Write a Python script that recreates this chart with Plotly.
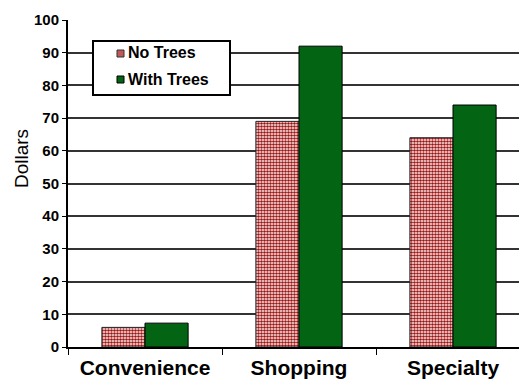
import plotly.graph_objects as go

categories = ["Convenience", "Shopping", "Specialty"]
no_trees = [6, 69, 64]
with_trees = [7.3, 92, 74]
y_ticks = [0, 10, 20, 30, 40, 50, 60, 70, 80, 90, 100]
series_names = ["No Trees", "With Trees"]

font = "Liberation Sans, Arial, sans-serif"
RED = "#a01010"
GREEN = "#036414"

# plot-area geometry (pixels) for placing the hand-drawn legend
L, T, R, B = 68, 20, 519, 347
def px(x):
    return (x - L) / (R - L)
def py(y):
    return (B - y) / (B - T)

fig = go.Figure()
fig.add_trace(go.Bar(
    x=categories, y=no_trees, name=series_names[0], showlegend=False,
    marker=dict(color="white", line=dict(color="#222", width=1),
                pattern=dict(shape=".", fgcolor=RED, bgcolor="white",
                             size=3, solidity=0.6, fillmode="replace")),
))
fig.add_trace(go.Bar(
    x=categories, y=with_trees, name=series_names[1], showlegend=False,
    marker=dict(color=GREEN, line=dict(color="black", width=1)),
))

shapes = [
    dict(type="rect", xref="paper", yref="paper",
         x0=px(93), x1=px(230), y0=py(95), y1=py(41),
         line=dict(color="black", width=2), fillcolor="white", layer="above"),
    dict(type="rect", xref="paper", yref="paper",
         x0=px(117), x1=px(124), y0=py(57), y1=py(50),
         line=dict(color="#333", width=1), fillcolor="#c05a5a", layer="above"),
    dict(type="rect", xref="paper", yref="paper",
         x0=px(117), x1=px(124), y0=py(83), y1=py(76),
         line=dict(color="black", width=1), fillcolor=GREEN, layer="above"),
]
annotations = [
    dict(text="<b>%s</b>" % series_names[0], xref="paper", yref="paper",
         x=px(126), y=py(53), xanchor="left", yanchor="middle", showarrow=False,
         font=dict(size=16, family=font, color="black")),
    dict(text="<b>%s</b>" % series_names[1], xref="paper", yref="paper",
         x=px(126), y=py(79), xanchor="left", yanchor="middle", showarrow=False,
         font=dict(size=16, family=font, color="black")),
    dict(text="Dollars", xref="paper", yref="paper", x=px(21), y=py(159),
         xanchor="center", yanchor="middle", textangle=-90, showarrow=False,
         font=dict(size=19, family=font, color="black")),
]

fig.update_layout(
    width=519, height=379,
    margin=dict(l=L, r=0, t=T, b=379 - B, autoexpand=False),
    plot_bgcolor="white", paper_bgcolor="white",
    barmode="group", bargap=0.44, bargroupgap=0,
    font=dict(family=font, color="black"),
    showlegend=False,
    shapes=shapes, annotations=annotations,
    xaxis=dict(range=[-0.5, 2.4286], showline=True, linecolor="black",
               linewidth=2, ticks="outside", tickson="boundaries",
               ticklen=6, tickcolor="black", tickwidth=1, automargin=False,
               ticklabelstandoff=1,
               tickfont=dict(size=21, family=font, color="black", weight="bold"),
               showgrid=False),
    yaxis=dict(range=[0, 100], tickvals=y_ticks, showline=True, automargin=False,
               linecolor="black", linewidth=2, ticks="outside", ticklen=4,
               tickcolor="black", showgrid=True, gridcolor="#333",
               gridwidth=1.5, zeroline=False,
               tickfont=dict(size=15, family=font, color="black", weight="bold")),
)

fig.write_html("out.html")
